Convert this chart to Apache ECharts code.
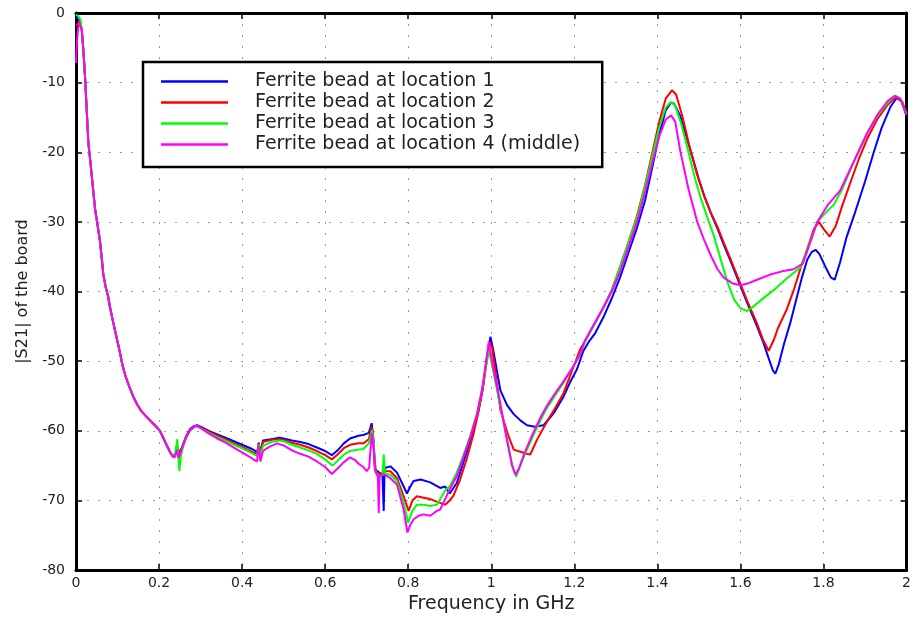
<!DOCTYPE html>
<html>
<head>
<meta charset="utf-8">
<script src="https://cdn.jsdelivr.net/npm/echarts@6/dist/echarts.min.js"></script>
<style>
html,body{margin:0;padding:0;background:#fff;}
#chart{width:914px;height:619px;}
</style>
</head>
<body>
<div id="chart"></div>
<script>
// ---------- DATA (frequency in GHz, |S21| in dB) ----------
const seriesNames = [
  'Ferrite bead at location 1',
  'Ferrite bead at location 2',
  'Ferrite bead at location 3',
  'Ferrite bead at location 4 (middle)'
];
const seriesColors = ['#0000ff', '#ff0000', '#00ff00', '#ff00ff'];

const yTicks = [0, -10, -20, -30, -40, -50, -60, -70, -80];
const xTickLabels = ['0', '0.2', '0.4', '0.6', '0.8', '1', '1.2', '1.4', '1.6', '1.8', '2'];

const blueStart = [[0,-0.6],[0.005,-0.9],[0.01,-1.2]];
const redStart = [[0,-1.8],[0.004,-1.6],[0.01,-1.2]];
const greenStart = [[0,-0.2],[0.006,-0.5],[0.011,-1.0]];
const magentaStart = [[0,-7.2],[0.002,-4.5],[0.005,-2.2],[0.008,-1.4],[0.011,-1.3]];

const sharedDecay = [[0.014,-2.5],[0.0177,-5.3],[0.0217,-9.1],[0.0257,-13.8],[0.0297,-18.6],[0.034,-21],[0.0378,-23.3],[0.042,-25.8],[0.0458,-28.1],[0.052,-30.5],[0.0578,-32.8],[0.062,-35.2],[0.0659,-37.6],[0.072,-39.5],[0.077,-40.6],[0.082,-42.3],[0.088,-44],[0.094,-45.6],[0.1,-47.2],[0.106,-48.8],[0.112,-50.6],[0.12,-52.3],[0.128,-53.6],[0.138,-55.1],[0.148,-56.3],[0.158,-57.2],[0.17,-58],[0.18,-58.6],[0.19,-59.2],[0.202,-60],[0.21,-61],[0.218,-62],[0.226,-63],[0.233,-63.7]];

const blueRest = [[0.24,-63.2],[0.245,-62.6],[0.25,-63.1],[0.255,-62.4],[0.265,-60.8],[0.275,-59.7],[0.285,-59.3],[0.292,-59.2],[0.3,-59.4],[0.32,-60],[0.34,-60.5],[0.36,-61],[0.38,-61.5],[0.4,-62],[0.42,-62.5],[0.43,-62.8],[0.436,-63.2],[0.44,-61.7],[0.444,-63.2],[0.45,-61.4],[0.47,-61.2],[0.49,-61],[0.5,-61.1],[0.52,-61.4],[0.54,-61.6],[0.56,-61.9],[0.58,-62.4],[0.6,-62.9],[0.616,-63.5],[0.63,-62.8],[0.645,-61.8],[0.66,-61.1],[0.68,-60.7],[0.692,-60.6],[0.705,-60.3],[0.712,-58.9],[0.716,-61],[0.72,-65.5],[0.73,-66],[0.738,-66.5],[0.741,-71.5],[0.743,-66],[0.745,-65.3],[0.757,-65.1],[0.773,-66],[0.785,-67.5],[0.797,-69],[0.805,-68],[0.813,-67.2],[0.83,-67],[0.853,-67.4],[0.865,-67.8],[0.877,-68.2],[0.889,-68],[0.9,-69],[0.917,-67.5],[0.933,-64.5],[0.949,-61.5],[0.966,-58],[0.978,-54.5],[0.988,-50],[0.998,-46.5],[1.005,-48.5],[1.022,-54.2],[1.038,-56.3],[1.054,-57.6],[1.07,-58.5],[1.086,-59.2],[1.105,-59.4],[1.126,-59.2],[1.15,-57.5],[1.174,-55.1],[1.19,-53],[1.206,-51.2],[1.222,-48.5],[1.235,-47.2],[1.25,-46],[1.27,-43.7],[1.29,-41],[1.31,-38],[1.33,-34.5],[1.35,-31],[1.37,-27],[1.39,-21.5],[1.405,-17.3],[1.42,-14],[1.432,-12.9],[1.44,-13],[1.455,-14.8],[1.47,-17.8],[1.485,-20.8],[1.5,-23.9],[1.515,-26.6],[1.53,-28.9],[1.545,-31],[1.56,-33.3],[1.576,-35.6],[1.6,-39.2],[1.616,-41.6],[1.64,-45],[1.655,-47.3],[1.668,-49.6],[1.678,-51.3],[1.684,-51.8],[1.692,-50.5],[1.705,-47.5],[1.72,-44.5],[1.735,-41],[1.748,-38],[1.761,-35.4],[1.772,-34.3],[1.781,-34],[1.79,-34.6],[1.805,-36.5],[1.818,-38],[1.827,-38.3],[1.84,-35.8],[1.855,-32.3],[1.874,-29],[1.9,-24.2],[1.921,-20],[1.94,-16.5],[1.961,-13.5],[1.976,-12.2],[1.988,-12.7],[2.0,-14.8]];

const redRest = [[0.24,-63.3],[0.245,-62.3],[0.25,-63.6],[0.255,-62.5],[0.265,-60.9],[0.275,-59.8],[0.285,-59.4],[0.292,-59.3],[0.3,-59.5],[0.32,-60.1],[0.34,-60.7],[0.36,-61.2],[0.38,-61.8],[0.4,-62.3],[0.42,-62.9],[0.43,-63.2],[0.436,-63.5],[0.44,-61.8],[0.444,-63.5],[0.45,-61.6],[0.47,-61.3],[0.49,-61.2],[0.5,-61.3],[0.52,-61.7],[0.54,-62],[0.56,-62.4],[0.58,-62.9],[0.6,-63.5],[0.616,-64.1],[0.63,-63.4],[0.645,-62.5],[0.66,-62],[0.68,-61.8],[0.692,-61.8],[0.705,-61.2],[0.712,-59.4],[0.716,-61.5],[0.72,-65.7],[0.73,-66.2],[0.745,-65.8],[0.757,-65.8],[0.773,-66.8],[0.789,-69.4],[0.801,-71.5],[0.81,-70],[0.821,-69.4],[0.837,-69.6],[0.853,-69.8],[0.87,-70.2],[0.889,-70.6],[0.9,-70],[0.909,-69.3],[0.925,-67],[0.941,-64],[0.957,-60.5],[0.97,-57],[0.982,-53],[0.99,-49.5],[0.995,-47.3],[1.002,-48],[1.022,-57],[1.04,-60.5],[1.054,-62.7],[1.07,-63],[1.085,-63.3],[1.094,-63.4],[1.11,-61.3],[1.134,-58.7],[1.155,-56.6],[1.174,-54.6],[1.195,-51.3],[1.214,-48.3],[1.225,-47.2],[1.25,-44.5],[1.27,-42.3],[1.29,-39.8],[1.31,-36.5],[1.33,-33],[1.35,-29.3],[1.37,-24.8],[1.39,-19.5],[1.405,-15.5],[1.42,-12.3],[1.435,-11.1],[1.445,-11.7],[1.46,-14.8],[1.48,-19.8],[1.496,-23.3],[1.512,-26.2],[1.528,-28.6],[1.544,-30.6],[1.56,-33],[1.576,-35.3],[1.6,-38.9],[1.616,-41.3],[1.64,-44.6],[1.655,-47],[1.668,-48.5],[1.68,-47],[1.69,-45.3],[1.712,-42.5],[1.73,-39.5],[1.745,-36.6],[1.76,-34],[1.777,-31],[1.789,-30],[1.8,-31],[1.815,-32.1],[1.83,-30.5],[1.845,-27.7],[1.865,-24.3],[1.885,-21],[1.905,-18.1],[1.93,-15.2],[1.953,-13.3],[1.97,-12.3],[1.978,-12.1],[1.99,-12.8],[2.0,-14.6]];

const greenRest = [[0.238,-63.5],[0.242,-62],[0.244,-61.2],[0.246,-63.5],[0.249,-65.8],[0.252,-63.8],[0.257,-62.4],[0.265,-61],[0.275,-59.9],[0.285,-59.4],[0.292,-59.3],[0.3,-59.6],[0.32,-60.3],[0.34,-60.9],[0.36,-61.4],[0.38,-62],[0.4,-62.5],[0.42,-63.1],[0.43,-63.4],[0.436,-63.6],[0.44,-62],[0.444,-63.6],[0.45,-62.2],[0.47,-61.6],[0.49,-61.4],[0.5,-61.5],[0.52,-62],[0.54,-62.4],[0.56,-62.8],[0.58,-63.3],[0.6,-64.1],[0.618,-65],[0.63,-64.3],[0.645,-63.4],[0.66,-62.9],[0.68,-62.7],[0.692,-62.6],[0.705,-61.8],[0.713,-59.9],[0.717,-62],[0.722,-66],[0.73,-66.5],[0.738,-66.4],[0.741,-63.4],[0.744,-66.2],[0.757,-66.3],[0.773,-67.2],[0.789,-70.3],[0.8,-73.2],[0.81,-71.5],[0.821,-70.6],[0.837,-70.6],[0.853,-70.8],[0.869,-70.6],[0.881,-69.4],[0.89,-68.5],[0.9,-68],[0.917,-66],[0.933,-63.5],[0.949,-60.8],[0.966,-57.5],[0.978,-54],[0.988,-50.5],[0.995,-48.5],[1.005,-51.5],[1.02,-56],[1.035,-60.3],[1.05,-64.8],[1.06,-66.6],[1.068,-65.3],[1.08,-63.5],[1.1,-60.8],[1.12,-58.3],[1.134,-56.7],[1.155,-54.8],[1.174,-53.1],[1.195,-51],[1.214,-49],[1.225,-47.3],[1.25,-44.5],[1.27,-42.3],[1.29,-39.8],[1.31,-36.5],[1.33,-33],[1.35,-29.5],[1.37,-25],[1.39,-20],[1.405,-16.3],[1.42,-13.6],[1.432,-12.8],[1.442,-13.2],[1.458,-16],[1.475,-20],[1.49,-23.6],[1.504,-26.5],[1.524,-30],[1.536,-32],[1.552,-35.3],[1.568,-38.5],[1.585,-41.2],[1.6,-42.4],[1.616,-42.8],[1.63,-42.2],[1.65,-41.2],[1.68,-39.8],[1.71,-38.2],[1.745,-36.5],[1.765,-33.3],[1.785,-30],[1.805,-28.7],[1.825,-27.5],[1.845,-25.3],[1.865,-22.5],[1.885,-19.8],[1.905,-17.2],[1.925,-15.2],[1.945,-13.6],[1.962,-12.4],[1.973,-11.9],[1.985,-12.3],[2.0,-14.5]];

const magentaRest = [[0.238,-63.8],[0.243,-62.8],[0.247,-63.9],[0.25,-64],[0.255,-62.6],[0.265,-61],[0.275,-59.9],[0.285,-59.4],[0.292,-59.3],[0.3,-59.6],[0.32,-60.4],[0.34,-61.1],[0.36,-61.7],[0.38,-62.4],[0.4,-63.1],[0.42,-63.8],[0.43,-64.2],[0.436,-64.4],[0.44,-62.2],[0.444,-64.4],[0.45,-62.9],[0.465,-62.3],[0.484,-61.8],[0.5,-62.1],[0.52,-62.8],[0.54,-63.3],[0.56,-63.7],[0.58,-64.4],[0.6,-65.2],[0.616,-66.2],[0.63,-65.4],[0.645,-64.5],[0.66,-63.8],[0.672,-64.2],[0.682,-64.8],[0.692,-65.2],[0.7,-65.8],[0.706,-65.3],[0.712,-60.4],[0.716,-62],[0.722,-66],[0.727,-66.6],[0.729,-71.8],[0.731,-66.5],[0.74,-66.2],[0.757,-66.8],[0.773,-67.7],[0.789,-71.3],[0.798,-74.6],[0.805,-73.5],[0.813,-72.7],[0.825,-72.2],[0.837,-72],[0.853,-72.2],[0.862,-71.8],[0.869,-71.5],[0.877,-71.3],[0.885,-70.3],[0.895,-69],[0.917,-66.5],[0.933,-63.8],[0.949,-61],[0.966,-57.5],[0.978,-54],[0.988,-50],[0.994,-47.2],[1.003,-50.5],[1.02,-55.5],[1.035,-60.5],[1.05,-65],[1.058,-66.3],[1.066,-65.5],[1.08,-63.2],[1.1,-60.4],[1.12,-57.9],[1.134,-56.4],[1.155,-54.5],[1.174,-52.9],[1.195,-51],[1.214,-49],[1.225,-47.1],[1.25,-44.4],[1.27,-42.3],[1.29,-40],[1.31,-37.2],[1.33,-33.7],[1.35,-30.2],[1.37,-25.8],[1.39,-21],[1.405,-17.6],[1.42,-15.3],[1.433,-14.7],[1.443,-15.6],[1.455,-19.8],[1.475,-25.3],[1.496,-30],[1.512,-32.5],[1.53,-35],[1.545,-36.8],[1.56,-38],[1.58,-38.8],[1.6,-39.1],[1.62,-38.8],[1.64,-38.3],[1.67,-37.6],[1.7,-37.1],[1.728,-36.8],[1.75,-36],[1.765,-33.5],[1.785,-30],[1.81,-27.6],[1.84,-25.5],[1.87,-21.7],[1.905,-17.3],[1.93,-14.6],[1.955,-12.6],[1.972,-11.9],[1.985,-12.3],[2.0,-14.5]];

const seriesData = [
  blueStart.concat(sharedDecay, blueRest),
  redStart.concat(sharedDecay, redRest),
  greenStart.concat(sharedDecay, greenRest),
  magentaStart.concat(sharedDecay, magentaRest)
];

// ---------- CHART ----------
const FONT = 'DejaVu Sans';
const chart = echarts.init(document.getElementById('chart'), null, {renderer: 'canvas'});

const axisLineStyle = {color: '#000', width: 3};
const tickStyle = {show: true, inside: true, length: 6, lineStyle: {color: '#000', width: 1.5}};
const gridLine = {show: true, lineStyle: {color: '#9a9a9a', width: 1, type: [2, 9]}};

const option = {
  backgroundColor: '#fff',
  animation: false,
  grid: {left: 76, right: 7, top: 13, bottom: 45, containLabel: false},
  legend: {
    orient: 'vertical',
    left: 143,
    top: 62,
    padding: [10, 22, 13, 18],
    icon: 'rect',
    itemWidth: 67,
    itemHeight: 2.5,
    itemGap: 2,
    backgroundColor: '#fff',
    borderColor: '#000',
    borderWidth: 2.5,
    data: seriesNames,
    textStyle: {fontFamily: FONT, fontSize: 19, lineHeight: 19, color: '#222', padding: [0, 0, 0, 22]}
  },
  xAxis: [
    {
      type: 'value', min: 0, max: 2, interval: 0.2, position: 'bottom',
      axisLine: {show: true, onZero: false, lineStyle: axisLineStyle},
      axisTick: tickStyle,
      splitLine: gridLine,
      axisLabel: {
        fontFamily: FONT, fontSize: 14, color: '#222', margin: 6,
        formatter: function (v) { return xTickLabels[Math.round(v / 0.2)]; }
      },
      name: 'Frequency in GHz', nameLocation: 'middle', nameGap: 23,
      nameTextStyle: {fontFamily: FONT, fontSize: 19, color: '#222'}
    },
    {
      type: 'value', min: 0, max: 2, interval: 0.2, position: 'top',
      axisLine: {show: true, onZero: false, lineStyle: axisLineStyle},
      axisTick: tickStyle, splitLine: {show: false}, axisLabel: {show: false}
    }
  ],
  yAxis: [
    {
      type: 'value', min: -80, max: 0, interval: 10, position: 'left',
      axisLine: {show: true, onZero: false, lineStyle: axisLineStyle},
      axisTick: tickStyle,
      splitLine: gridLine,
      axisLabel: {
        fontFamily: FONT, fontSize: 14, color: '#222', margin: 11,
        formatter: function (v) { return String(yTicks[yTicks.indexOf(Math.round(v))]); }
      },
      name: '|S21| of the board', nameLocation: 'middle', nameGap: 42,
      nameTextStyle: {fontFamily: FONT, fontSize: 16, color: '#222'}
    },
    {
      type: 'value', min: -80, max: 0, interval: 10, position: 'right',
      axisLine: {show: true, onZero: false, lineStyle: axisLineStyle},
      axisTick: tickStyle, splitLine: {show: false}, axisLabel: {show: false}
    }
  ],
  series: seriesNames.map(function (name, i) {
    return {
      name: name,
      type: 'line',
      xAxisIndex: 0,
      yAxisIndex: 0,
      data: seriesData[i],
      symbol: 'none',
      smooth: false,
      clip: true,
      lineStyle: {color: seriesColors[i], width: 2},
      itemStyle: {color: seriesColors[i]},
      z: 2 + i
    };
  })
};
chart.setOption(option);
</script>
</body>
</html>
